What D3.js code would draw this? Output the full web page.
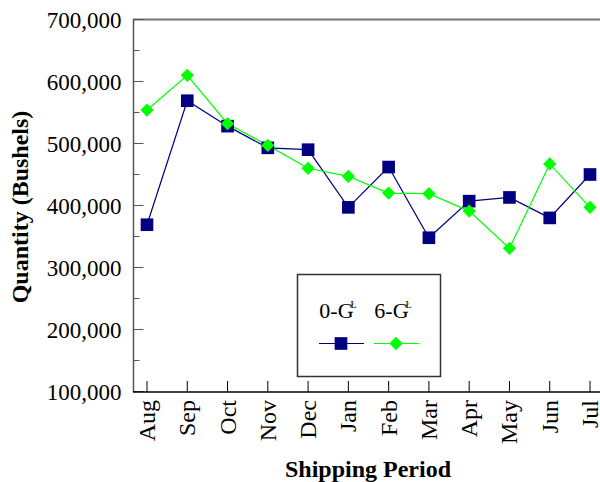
<!DOCTYPE html>
<html>
<head>
<meta charset="utf-8">
<script src="https://cdn.jsdelivr.net/npm/d3@7"></script>
<style>
body { margin: 0; background: #fff; }
text { font-family: "Liberation Serif", "Times New Roman", serif; }
</style>
</head>
<body>
<svg id="chart" width="600" height="482"></svg>
<script>
var months = ["Aug", "Sep", "Oct", "Nov", "Dec", "Jan", "Feb", "Mar", "Apr", "May", "Jun", "Jul"];
var g0 = [369000, 569000, 528000, 493000, 490000, 397000, 462000, 348000, 407000, 413000, 380000, 450000];
var g6 = [554000, 610000, 532000, 497000, 460000, 447000, 420000, 419000, 391000, 331000, 467000, 397000];
var yTicks = [100000, 200000, 300000, 400000, 500000, 600000, 700000];
var seriesNames = ["0-G", "6-G"];

var svg = d3.select("#chart");

var x = d3.scalePoint().domain(months).range([147, 590]);
var y = d3.scaleLinear().domain([100000, 700000]).range([391.5, 19.5]);
var fmt = d3.format(",");

// top frame line
svg.append("line")
    .attr("x1", 133).attr("x2", 600).attr("y1", 19.5).attr("y2", 19.5)
    .style("stroke", "#777").style("stroke-width", 2);

// y axis
var yAxis = svg.append("g").attr("transform", "translate(133.5,0)");
yAxis.append("line").attr("y1", 19).attr("y2", 392).style("stroke", "#555").style("stroke-width", 1.5);
yAxis.selectAll("line.minor")
    .data(d3.range(150000, 700000, 100000))
    .join("line").classed("minor", true)
    .attr("x1", 0).attr("x2", 6)
    .attr("y1", d => y(d)).attr("y2", d => y(d))
    .style("stroke", "#555");
yAxis.selectAll("line.major")
    .data(yTicks)
    .join("line").classed("major", true)
    .attr("x1", 0).attr("x2", 10)
    .attr("y1", d => y(d)).attr("y2", d => y(d))
    .style("stroke", "#555");
yAxis.selectAll("text")
    .data(yTicks)
    .join("text")
    .attr("x", -12)
    .attr("y", d => y(d))
    .attr("dy", "0.35em")
    .attr("text-anchor", "end")
    .style("font-size", "23px")
    .text(d => fmt(d));

// x axis
var xAxis = svg.append("g").attr("transform", "translate(0,392)");
xAxis.append("line").attr("x1", 133).attr("x2", 600).style("stroke", "#000").style("stroke-width", 1.5);
xAxis.selectAll("line.tick")
    .data(months)
    .join("line").classed("tick", true)
    .attr("x1", d => x(d)).attr("x2", d => x(d))
    .attr("y1", 0).attr("y2", -11)
    .style("stroke", "#000");
xAxis.selectAll("text")
    .data(months)
    .join("text")
    .attr("transform", d => "translate(" + (x(d) + 8) + ",8) rotate(-90)")
    .attr("text-anchor", "end")
    .style("font-size", "24px")
    .text(d => d);

// axis titles
svg.append("text")
    .attr("transform", "translate(28,207) rotate(-90)")
    .attr("text-anchor", "middle")
    .style("font-size", "24px").style("font-weight", "bold")
    .text("Quantity (Bushels)");
svg.append("text")
    .attr("x", 368).attr("y", 477)
    .attr("text-anchor", "middle")
    .style("font-size", "24px").style("font-weight", "bold")
    .text("Shipping Period");

var line = d3.line().x((d, i) => x(months[i])).y(d => y(d));
var sq = d3.symbol().type(d3.symbolSquare).size(160);
var dia = d3.symbol().type(d3.symbolSquare).size(88);

// legend
var leg = svg.append("g");
leg.append("rect")
    .attr("x", 297.5).attr("y", 274.5).attr("width", 143).attr("height", 102)
    .style("fill", "#fff").style("stroke", "#333").style("stroke-width", 1.5);

// series
svg.append("path").datum(g0).attr("d", line)
    .style("fill", "none").style("stroke", "#000080").style("stroke-width", 1.2);
svg.append("path").datum(g6).attr("d", line)
    .style("fill", "none").style("stroke", "#00ff00").style("stroke-width", 1.2);
svg.selectAll("path.sq")
    .data(g0)
    .join("path").classed("sq", true)
    .attr("transform", (d, i) => "translate(" + x(months[i]) + "," + y(d) + ")")
    .attr("d", sq)
    .style("fill", "#000080");
svg.selectAll("path.dia")
    .data(g6)
    .join("path").classed("dia", true)
    .attr("transform", (d, i) => "translate(" + x(months[i]) + "," + y(d) + ") rotate(45)")
    .attr("d", dia)
    .style("fill", "#00ff00");

var legItems = [
    { name: seriesNames[0], color: "#000080", shape: sq, rot: 0, x: 341 },
    { name: seriesNames[1], color: "#00ff00", shape: dia, rot: 45, x: 396 }
];
legItems.forEach(function (it) {
    var t = leg.append("text")
        .attr("x", it.x - 3).attr("y", 318)
        .attr("text-anchor", "middle")
        .style("font-size", "22px");
    t.append("tspan").text(it.name);
    t.append("tspan").attr("dx", -3).attr("dy", -10).style("font-size", "10px").text("Ł");
    leg.append("line")
        .attr("x1", it.x - 22).attr("x2", it.x + 23).attr("y1", 343.5).attr("y2", 343.5)
        .style("stroke", it.color).style("stroke-width", 1.2);
    leg.append("path")
        .attr("transform", "translate(" + it.x + ",343.5) rotate(" + it.rot + ")")
        .attr("d", it.shape)
        .style("fill", it.color);
});
</script>
</body>
</html>
